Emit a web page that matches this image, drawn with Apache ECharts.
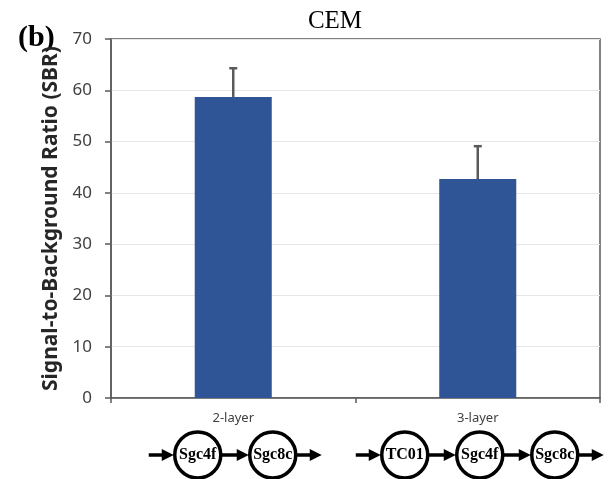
<!DOCTYPE html>
<html>
<head>
<meta charset="utf-8">
<script src="https://cdn.jsdelivr.net/npm/echarts@6/dist/echarts.min.js"></script>
<style>html,body{margin:0;padding:0;background:#fff}#c{width:610px;height:479px}</style>
</head>
<body>
<div id="c"></div>
<script>
// ---- data ----
var categories = ['2-layer', '3-layer'];
var sbrValues = [58.7, 42.7];
var sbrErrors = [5.6, 6.4];
var yTicks = [0, 10, 20, 30, 40, 50, 60, 70];
var diagramNodes = [['Sgc4f', 'Sgc8c'], ['TC01', 'Sgc4f', 'Sgc8c']];
var chartTitle = 'CEM';
var panelLabel = '(b)';
var yAxisName = 'Signal-to-Background Ratio (SBR)';

var chart = echarts.init(document.getElementById('c'));
var axisColor = '#595959';

var errData = categories.map(function (c, i) { return [i, sbrValues[i], sbrErrors[i]]; });

chart.setOption({
  animation: false,
  grid: { left: 111, right: 10, top: 39, bottom: 81, show: true, borderColor: axisColor, borderWidth: 1.5 },
  xAxis: {
    type: 'category',
    data: categories,
    axisLine: { lineStyle: { color: axisColor, width: 1.5 } },
    axisTick: { show: true, length: 5, lineStyle: { color: axisColor, width: 1.5 } },
    axisLabel: { fontSize: 13, color: '#404040', margin: 14, fontFamily: 'Noto Sans' }
  },
  yAxis: {
    type: 'value',
    min: yTicks[0], max: yTicks[yTicks.length - 1], interval: 10,
    name: yAxisName,
    nameLocation: 'middle',
    nameGap: 49,
    nameTextStyle: { fontSize: 21, fontWeight: 'bold', color: '#262626', fontFamily: 'Noto Sans' },
    axisLine: { show: true, lineStyle: { color: axisColor, width: 1.5 } },
    axisTick: { show: true, length: 6, lineStyle: { color: axisColor, width: 1.5 } },
    axisLabel: { fontSize: 17, color: '#404040', margin: 19, fontFamily: 'Noto Sans' },
    splitLine: { lineStyle: { color: '#e6e6e6', width: 1 } }
  },
  series: [
    {
      type: 'bar',
      data: sbrValues,
      barWidth: '31.5%',
      itemStyle: { color: '#2f5597' }
    },
    {
      type: 'custom',
      data: errData,
      z: 5,
      renderItem: function (params, api) {
        var x = api.value(0);
        var v = api.value(1);
        var e = api.value(2);
        var p0 = api.coord([x, v]);
        var p1 = api.coord([x, v + e]);
        var cap = 4;
        return {
          type: 'group',
          children: [
            { type: 'line', shape: { x1: p0[0], y1: p0[1], x2: p1[0], y2: p1[1] }, style: { stroke: '#5a5a5a', lineWidth: 2.5 } },
            { type: 'line', shape: { x1: p1[0] - cap, y1: p1[1], x2: p1[0] + cap, y2: p1[1] }, style: { stroke: '#5a5a5a', lineWidth: 2.5 } }
          ]
        };
      }
    }
  ]
});

// ---- annotations: titles and pathway diagrams ----
var graphics = [
  { type: 'text', left: 18, top: 23, style: { text: panelLabel, font: 'bold 30px "Liberation Serif"', fill: '#000' } },
  { type: 'text', x: 335, y: 21, style: { text: chartTitle, font: '25px "Liberation Serif"', fill: '#000', align: 'center', verticalAlign: 'middle' } }
];

var cy = 455, r = 23, spacing = 75, lead = 26, lw = 3.5;
function arrow(x1, x2) {
  var head = 12, hh = 6;
  graphics.push({ type: 'line', shape: { x1: x1, y1: cy, x2: x2 - head + 1, y2: cy }, style: { stroke: '#000', lineWidth: lw } });
  graphics.push({ type: 'polygon', shape: { points: [[x2 - head, cy - hh], [x2, cy], [x2 - head, cy + hh]] }, style: { fill: '#000' } });
}
diagramNodes.forEach(function (nodes, ci) {
  var cx = chart.convertToPixel({ xAxisIndex: 0 }, ci) + 2;
  var n = nodes.length;
  var centers = nodes.map(function (_, k) { return cx + (k - (n - 1) / 2) * spacing; });
  arrow(centers[0] - r - lead, centers[0] - r - 1);
  for (var k = 0; k < n - 1; k++) arrow(centers[k] + r + 1, centers[k + 1] - r - 1);
  arrow(centers[n - 1] + r + 1, centers[n - 1] + r + lead);
  nodes.forEach(function (name, k) {
    graphics.push({ type: 'circle', shape: { cx: centers[k], cy: cy, r: r }, style: { fill: '#fff', stroke: '#000', lineWidth: lw } });
    graphics.push({ type: 'text', x: centers[k], y: cy, style: { text: name, font: 'bold 16px "Liberation Serif"', fill: '#000', align: 'center', verticalAlign: 'middle' } });
  });
});
chart.setOption({ graphic: graphics });
</script>
</body>
</html>
